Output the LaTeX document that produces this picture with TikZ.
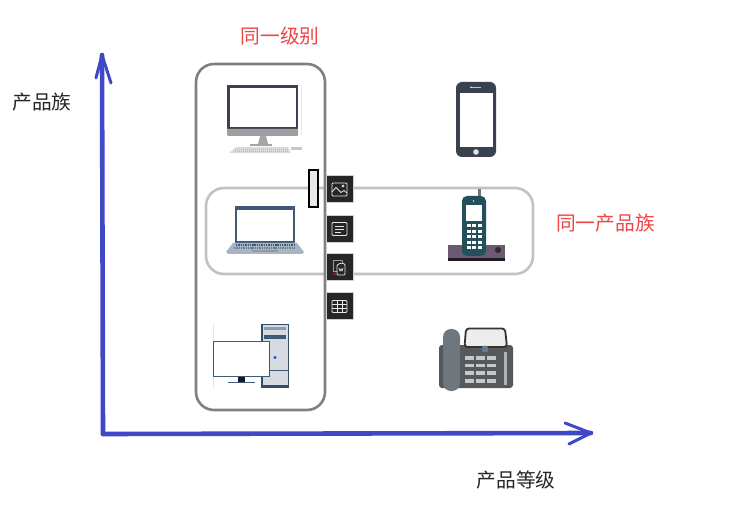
\documentclass[tikz,border=0pt]{standalone}
\usepackage{fontspec}
\setmainfont{Noto Sans CJK SC}
\definecolor{axisblue}{HTML}{4048C8}
\definecolor{labelred}{HTML}{F04545}
\definecolor{btn}{HTML}{262626}
\definecolor{navy}{HTML}{3F5A78}
\definecolor{slate}{HTML}{3A4150}
\definecolor{teal}{HTML}{24505A}
\definecolor{plum}{HTML}{6B5B72}
\definecolor{steel}{HTML}{6E767E}
\definecolor{darkbody}{HTML}{55595E}
\tikzset{
  x=1pt,y=-1pt,
  axisline/.style={draw=axisblue,line width=4.6pt,line cap=round,line join=round},
  axishead/.style={draw=axisblue,line width=3pt,line cap=round,line join=round},
  redlabel/.style={text=labelred,font=\fontsize{19.7}{22}\selectfont,inner sep=0pt},
  blacklabel/.style={text=black!85,font=\fontsize{19.7}{22}\selectfont,inner sep=0pt},
  iconbtn/.style={fill=btn,draw=black!18,line width=1pt,minimum width=27pt,minimum height=27pt,inner sep=0pt},
  iconline/.style={draw=white!90!black,line width=0.8pt,line join=round},
}
\begin{document}
\begin{tikzpicture}
\useasboundingbox (0,0) rectangle (741,518);
\fill[white] (0,0) rectangle (741,518);

% group frames
\draw[draw=black!24,line width=2.6pt,rounded corners=18pt] (206,188) rectangle (533,274);
\draw[draw=black!50,line width=2.6pt,rounded corners=18pt] (196,64) rectangle (325,410);

% axes
\coordinate (origin) at (103,434);
\coordinate (ytip) at (102,55);
\coordinate (xtip) at (591,433);
\draw[axisline] (origin) -- (ytip);
\draw[axisline] (origin) -- (xtip);
\draw[axishead] (96,78) -- (ytip) -- (111,83);
\draw[axishead] (565,423) -- (xtip) -- (569,444);

% labels
\node[redlabel] (sameLevel) at (280,36) {同一级别};
\node[blacklabel] (family) at (42,102) {产品族};
\node[redlabel] (sameFamily) at (605.5,223) {同一产品族};
\node[blacklabel] (level) at (516,480) {产品等级};

% iMac
\fill[black!10] (300.5,85) rectangle (301.5,135);
\fill[slate] (227,85) rectangle (298,129);
\fill[white] (230,88.5) rectangle (296,127.5);
\fill[black!38,rounded corners=1pt] (227,129) rectangle (298,136);
\fill[black!35] (260,136) -- (266,136) -- (268,144) -- (258,144) -- cycle;
\fill[black!35] (250,144) rectangle (272,146);
\fill[black!14] (236,147) -- (288,147) -- (291,153) -- (229,153) -- cycle;
\foreach \k in {149,151}{\draw[black!28,line width=.6pt,dash pattern=on 1pt off 1pt] (235,\k) -- (288,\k);}
\fill[black!22] (291,147.5) rectangle (302,150);

% laptop
\fill[navy] (235,206) rectangle (295,243);
\fill[white] (237,210) rectangle (293,241);
\fill[navy!45] (233,243) -- (297,243) -- (304,252) -- (302,254) -- (228,254) -- (226,252) -- cycle;
\draw[navy,line width=1.6pt,dash pattern=on 1.4pt off .9pt] (236,245) -- (294,245);
\draw[navy!80,line width=1.2pt,dash pattern=on 1.4pt off .9pt] (234,248) -- (296,248);
\fill[black!40] (252,250) rectangle (278,252.5);

% desktop computer
\fill[black!10] (213,324) rectangle (213.6,388);
\fill[navy!85!black] (261,324) rectangle (289,388);
\fill[navy!22] (262.5,325.5) rectangle (287.5,385);
\fill[navy!60] (264,327.5) rectangle (286,330);
\fill[navy] (264,335) rectangle (286,338.5);
\fill[navy] (270,369.5) rectangle (287.5,370.3);
\fill[blue!70!cyan] (275,357.5) circle (1.6);
\draw[draw=navy,line width=1.6pt,fill=white] (213.6,341.5) rectangle (269.5,376.5);
\fill[black!70!navy] (238,377) rectangle (245,382);
\fill[navy] (228,381.5) rectangle (255,383.2);

% smartphone
\fill[slate,rounded corners=6pt] (456,82) rectangle (496,157);
\fill[white] (459.5,93) rectangle (493,147);
\fill[white!70!slate] (470,87.2) rectangle (481,88.3);
\fill[white] (471,87) circle (.7);
\fill[white!85!slate] (476,152) circle (2.8);

% cordless phone
\fill[plum] (448,245) rectangle (505,258);
\fill[black!70!plum] (448,258) rectangle (505,261);
\fill[black!55!plum] (498,250) circle (3);
\fill[black!55] (478,189) rectangle (480.5,197);
\fill[teal,rounded corners=5pt] (462,196) rectangle (486,256);
\fill[white] (466,205) rectangle (482,221);
\fill[white!80!teal] (473.5,201) circle (.9);
\foreach \r in {0,1,2,3,4}{\foreach \c in {0,1,2}{
  \fill[white] (467+5.3*\c,224.5+5.4*\r) rectangle ++(4,3);}}

% desk phone
\fill[darkbody,rounded corners=3pt] (439,345) rectangle (513,388);
\draw[draw=black!80,line width=1.8pt,fill=black!7,rounded corners=3pt] (466,328.5) -- (505,328.5) -- (507,347) -- (464.5,347) -- cycle;
\fill[navy!80] (485,349) circle (3.5);
\fill[steel,rounded corners=8pt] (443,329) rectangle (460,391);
\foreach \r in {0,1,2,3}{\foreach \c in {0,1,2}{
  \fill[black!22] (465+11*\c,356+7.7*\r) rectangle ++(9,3.6);}}
\fill[black!30] (504,352) rectangle (506.5,385);

% floating toolbar
\node[draw=black,line width=1.4pt,fill=black!9,minimum width=9pt,minimum height=37pt,inner sep=0pt] (handle) at (313.5,188.5) {};
\node[iconbtn] (imgBtn) at (339.5,189.5) {};
\node[iconbtn] (txtBtn) at (339.5,229) {};
\node[iconbtn] (fileBtn) at (339.5,267.5) {};
\node[iconbtn] (tblBtn) at (339.5,306.5) {};
% picture icon
\draw[iconline,rounded corners=1pt] (332,183) rectangle (347,196);
\draw[iconline] (332,192) -- (336,187.5) -- (341,192.5) -- (344,190.5) -- (347,193);
\draw[iconline] (343,186) circle (1.1);
% text icon
\draw[iconline,rounded corners=1pt] (332,222.5) rectangle (347,235.5);
\draw[iconline] (335,226) -- (344,226) (335,229) -- (344,229) (335,232) -- (341,232);
% file icon
\draw[draw=white!60!black,line width=.7pt] (333,260) rectangle (342,271);
\draw[iconline,fill=btn,rounded corners=1pt] (337,265) -- (341,263) -- (345,264) -- (345,275) -- (337,275) -- cycle;
\draw[draw=white,line width=.6pt] (339,268) -- (340,271) -- (341,269) -- (342,271) -- (343,268);
\fill[red!85!black] (333,273) -- (336.5,273) -- (334.8,276) -- cycle;
% table icon
\draw[iconline,rounded corners=1pt] (332,300.5) rectangle (347,312.5);
\draw[iconline] (332,304.5) -- (347,304.5) (332,308.5) -- (347,308.5) (337,300.5) -- (337,312.5) (342,300.5) -- (342,312.5);
\end{tikzpicture}
\end{document}
